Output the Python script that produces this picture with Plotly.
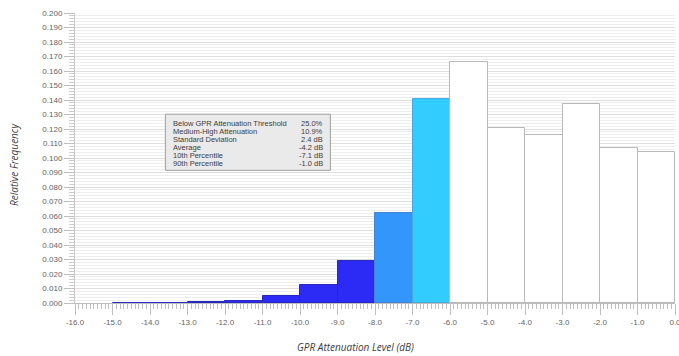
import plotly.graph_objects as go

# Histogram bins (1 dB wide, left edges) and relative frequencies
bin_left = [-15, -14, -13, -12, -11, -10, -9, -8, -7, -6, -5, -4, -3, -2, -1]
rel_freq = [0.0003, 0.0003, 0.0006, 0.0012, 0.0051, 0.0124, 0.029, 0.062,
            0.141, 0.166, 0.121, 0.116, 0.137, 0.107, 0.104]

# Bin class colours: high attenuation, medium-high, medium, below threshold
BLUE = "rgb(43,43,245)"
MID_BLUE = "rgb(51,150,250)"
CYAN = "rgb(51,204,255)"
WHITE = "rgb(255,255,255)"
bin_colors = [BLUE] * 7 + [MID_BLUE, CYAN] + [WHITE] * 6
bin_edges = (["rgb(40,40,190)"] * 7 + ["rgb(70,130,210)", "rgb(70,170,220)"]
             + ["rgb(185,185,185)"] * 6)

# Summary statistics
stat_labels = ["Below GPR Attenuation Threshold", "Medium-High Attenuation",
               "Standard Deviation", "Average", "10th Percentile", "90th Percentile"]
stat_values = ["25.0%", "10.9%", "2.4 dB", "-4.2 dB", "-7.1 dB", "-1.0 dB"]

# Axis ticks
x_tick_vals = list(range(-16, 1))
x_tick_text = [f"{v:.1f}" if v != 0 else "0.0" for v in x_tick_vals]
y_tick_vals = [i / 100 for i in range(0, 21)]
y_tick_text = [f"{v:.3f}" for v in y_tick_vals]

# Figure geometry (pixels)
W, H = 679, 356
ML, MR, MT, MB = 75, 4, 13, 53
PW, PH = W - ML - MR, H - MT - MB

fig = go.Figure()
fig.add_trace(go.Bar(
    x=[b + 0.5 for b in bin_left],
    y=rel_freq,
    width=1,
    marker=dict(color=bin_colors, line=dict(color=bin_edges, width=1)),
    hoverinfo="skip",
))

# Statistics box
fig.add_shape(type="rect", xref="x", yref="y",
              x0=-13.59, x1=-9.19, y0=0.0915, y1=0.1302,
              fillcolor="rgb(234,234,234)", line=dict(color="rgb(160,160,160)", width=1),
              layer="above")
line_y0 = 0.1241
line_step = 0.00558
box_font = dict(family="Liberation Sans", size=7.5, color="rgb(60,60,60)")
for i, (lab, val) in enumerate(zip(stat_labels, stat_values)):
    yy = line_y0 - i * line_step
    fig.add_annotation(x=-13.43, y=yy, xref="x", yref="y", text=lab, showarrow=False,
                       xanchor="left", yanchor="middle", font=box_font)
    fig.add_annotation(x=-9.33, y=yy, xref="x", yref="y", text=val, showarrow=False,
                       xanchor="right", yanchor="middle", font=box_font)

tick_font = dict(family="Liberation Sans", size=8, color="rgb(100,100,100)")
title_font = dict(family="Open Sans", size=10, color="rgb(60,60,60)")

# Axis titles, placed in paper space
fig.add_annotation(x=(355 - ML) / PW, y=-(347 - (H - MB)) / PH, xref="paper", yref="paper",
                   text="<i>GPR Attenuation Level (dB)</i>", showarrow=False,
                   font=title_font, xanchor="center", yanchor="middle")
fig.add_annotation(x=(14 - ML) / PW, y=((H - MB) - 165) / PH, xref="paper", yref="paper",
                   text="<i>Relative Frequency</i>", showarrow=False, font=title_font,
                   textangle=-90, xanchor="center", yanchor="middle")

fig.update_layout(
    width=W, height=H,
    margin=dict(l=ML, r=MR, t=MT, b=MB),
    paper_bgcolor="white", plot_bgcolor="white",
    showlegend=False,
    bargap=0,
    xaxis=dict(
        range=[-16, 0], tickvals=x_tick_vals, ticktext=x_tick_text,
        ticks="outside", ticklen=11, tickcolor="rgb(190,190,190)", tickwidth=1,
        minor=dict(dtick=0.1, tick0=0, ticks="outside", ticklen=5,
                   tickcolor="rgb(190,190,190)", showgrid=False),
        showgrid=False, zeroline=False,
        showline=True, linecolor="rgb(190,190,190)", linewidth=1,
        tickfont=tick_font, ticklabeloverflow="allow", automargin=False,
    ),
    yaxis=dict(
        range=[0, 0.2], tickvals=y_tick_vals, ticktext=y_tick_text,
        ticks="outside", ticklen=10, tickcolor="rgb(190,190,190)", tickwidth=1,
        minor=dict(dtick=0.002, tick0=0, ticks="outside", ticklen=5,
                   tickcolor="rgb(205,205,205)", showgrid=True,
                   gridcolor="rgb(238,238,238)", gridwidth=1),
        showgrid=True, gridcolor="rgb(222,222,222)", gridwidth=1,
        zeroline=False,
        showline=True, linecolor="rgb(200,200,200)", linewidth=1,
        tickfont=tick_font, automargin=False,
    ),
)

fig.write_html("out.html")
